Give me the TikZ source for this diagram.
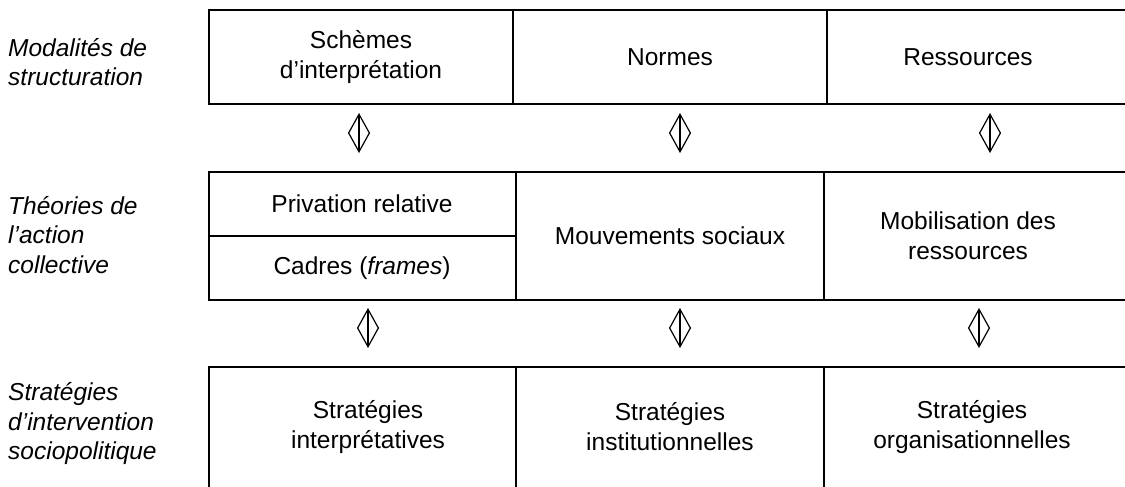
\documentclass[tikz,border=0pt]{standalone}
\usepackage{fontspec}
\setmainfont{Liberation Sans}
\usetikzlibrary{arrows.meta}
\tikzset{
  cell/.style={draw, line width=1.5pt, anchor=north west, inner sep=0pt, outer sep=0pt},
  txt/.style={align=center, inner sep=0pt, font=\fontsize{24.5}{30}\selectfont},
  side/.style={align=left, anchor=west, inner sep=0pt, font=\fontsize{24.5}{29.5}\selectfont\itshape},
  dbl/.style={line width=1.2pt, {Straight Barb[length=19pt,width=21pt]}-{Straight Barb[length=19pt,width=21pt]}}
}
\begin{document}
\begin{tikzpicture}[x=1pt,y=-1pt]
\clip (0,0) rectangle (1125,487);
\fill[white] (0,0) rectangle (1125,487);
% row 1
\node[cell, minimum width=304pt, minimum height=94pt] (c11) at (209,10) {};
\node[cell, minimum width=314pt, minimum height=94pt] (c12) at (513,10) {};
\node[cell, minimum width=320pt, minimum height=94pt] (c13) at (827,10) {};
% row 2
\node[cell, minimum width=307pt, minimum height=64pt] (c21a) at (209,172) {};
\node[cell, minimum width=307pt, minimum height=64pt] (c21b) at (209,236) {};
\node[cell, minimum width=308pt, minimum height=128pt] (c22) at (516,172) {};
\node[cell, minimum width=320pt, minimum height=128pt] (c23) at (824,172) {};
% row 3
\node[cell, minimum width=307pt, minimum height=140pt] (c31) at (209,367) {};
\node[cell, minimum width=308pt, minimum height=140pt] (c32) at (516,367) {};
\node[cell, minimum width=320pt, minimum height=140pt] (c33) at (824,367) {};
% texts
\node[txt] (t11) at (361,57) {Schèmes\\d’interprétation};
\node[txt] (t12) at (670,57) {Normes};
\node[txt] (t13) at (968,57) {Ressources};
\node[txt] (t21a) at (362,204) {Privation relative};
\node[txt] (t21b) at (362,268) {Cadres (\textit{frames})};
\node[txt] (t22) at (670,236) {Mouvements sociaux};
\node[txt] (t23) at (968,236) {Mobilisation des\\ressources};
\node[txt] (t31) at (368,427) {Stratégies\\interprétatives};
\node[txt] (t32) at (670,427) {Stratégies\\institutionnelles};
\node[txt] (t33) at (972,427) {Stratégies\\organisationnelles};
% side labels
\node[side] (s1) at (8,62) {Modalités de\\structuration};
\node[side] (s2) at (8,235) {Théories de\\l’action\\collective};
\node[side] (s3) at (8,424) {Stratégies\\d’intervention\\sociopolitique};
% arrows
\coordinate (a1t) at (359,113); \coordinate (a1b) at (359,153);
\coordinate (a2t) at (680,113); \coordinate (a2b) at (680,153);
\coordinate (a3t) at (990,113); \coordinate (a3b) at (990,153);
\coordinate (b1t) at (368,308); \coordinate (b1b) at (368,348);
\coordinate (b2t) at (680,308); \coordinate (b2b) at (680,348);
\coordinate (b3t) at (979,308); \coordinate (b3b) at (979,348);
\draw[dbl] (a1t) -- (a1b);
\draw[dbl] (a2t) -- (a2b);
\draw[dbl] (a3t) -- (a3b);
\draw[dbl] (b1t) -- (b1b);
\draw[dbl] (b2t) -- (b2b);
\draw[dbl] (b3t) -- (b3b);
\end{tikzpicture}
\end{document}
